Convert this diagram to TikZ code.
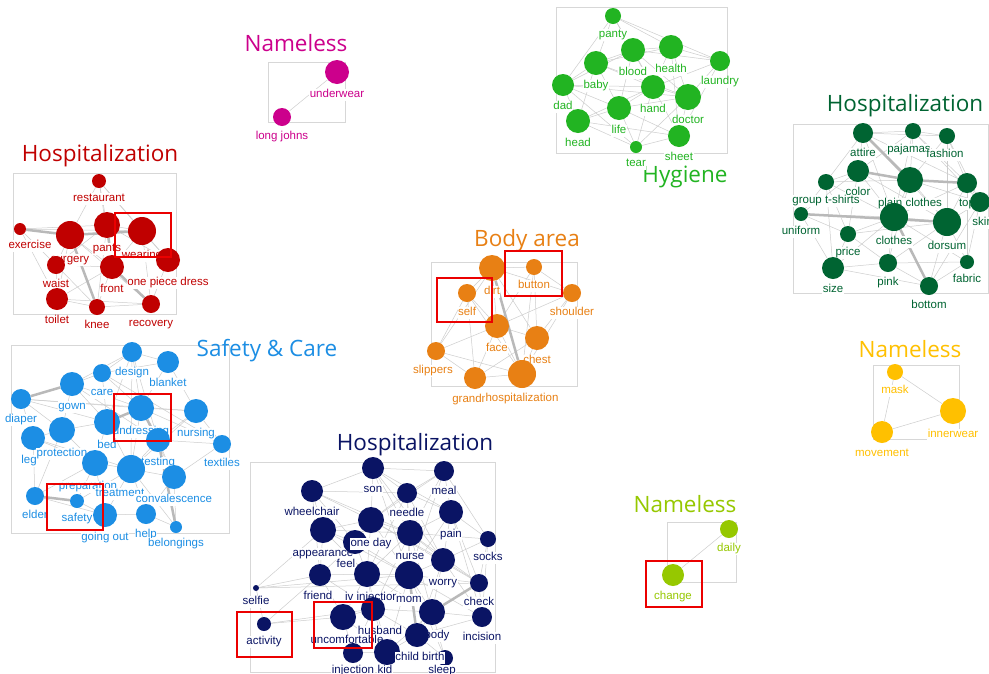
\documentclass[tikz,border=0pt]{standalone}
\usepackage{fontspec}
\setmainfont{Liberation Sans}
\newfontfamily\titlefont{Open Sans}
\usepackage{tikz}
\usetikzlibrary{backgrounds}
\definecolor{hospred}{RGB}{192, 0, 0}
\definecolor{namepink}{RGB}{204, 0, 140}
\definecolor{hygreen}{RGB}{34, 180, 34}
\definecolor{clothgreen}{RGB}{0, 100, 50}
\definecolor{bodyorange}{RGB}{232, 128, 20}
\definecolor{careblue}{RGB}{28, 142, 228}
\definecolor{hospnavy}{RGB}{10, 20, 100}
\definecolor{namegold}{RGB}{255, 192, 0}
\definecolor{namelime}{RGB}{150, 200, 0}
\definecolor{markred}{RGB}{235, 0, 0}
\definecolor{edgegray}{RGB}{205, 205, 205}
\definecolor{thickgray}{RGB}{185, 185, 185}
\definecolor{framegray}{RGB}{215, 215, 215}
\newcommand{\lblfont}{\fontsize{11.5}{13}\selectfont}

\begin{document}
\begin{tikzpicture}[x=1pt, y=-1pt,
    kw/.style={circle, fill=cl, inner sep=0pt, minimum size=#1, label distance=2.5pt},
    lbl/.style={font=\lblfont, text=cl, fill=white, inner sep=0.5pt, text height=8pt, text depth=2.3pt, yshift=-5pt},
    title/.style={font=\titlefont\fontsize{22.5}{26}\selectfont, text=cl, anchor=base, inner sep=0pt},
    frame/.style={draw=framegray, line width=0.8pt},
    link/.style={draw=edgegray, line width=0.5pt},
    strong/.style={draw=thickgray, line width=2.5pt},
    hlbox/.style={draw=markred, line width=2.6pt}]

    \begin{scope}[on background layer]
        \fill[white] (0,0) rectangle (989,673);
    \end{scope}
    \useasboundingbox (0,0) rectangle (989,673);

    % Hospitalization (red)
    \begin{scope}
        \colorlet{cl}{hospred}
        \node[title] (r-title) at (100,161) {Hospitalization};
        \node[kw=14pt, label={[lbl]below:restaurant}] (r-restaurant) at (99,181) {};
        \node[kw=12pt, label={[lbl, xshift=10pt]below:exercise}] (r-exercise) at (20,229) {};
        \node[kw=28pt, label={[lbl]below:surgery}] (r-surgery) at (70,235) {};
        \node[kw=26pt, label={[lbl]below:pants}] (r-pants) at (107,225) {};
        \node[kw=28pt, label={[lbl]below:wearing}] (r-wearing) at (142,231) {};
        \node[kw=24pt, label={[lbl]below:one piece dress}] (r-dress) at (168,260) {};
        \node[kw=18pt, label={[lbl]below:waist}] (r-waist) at (56,265) {};
        \node[kw=24pt, label={[lbl]below:front}] (r-front) at (112,267) {};
        \node[kw=22pt, label={[lbl]below:toilet}] (r-toilet) at (57,299) {};
        \node[kw=16pt, label={[lbl]below:knee}] (r-knee) at (97,307) {};
        \node[kw=18pt, label={[lbl]below:recovery}] (r-recovery) at (151,304) {};
        \begin{scope}[on background layer]
            \draw[frame] (13,173) rectangle (176,314);
            \foreach \a/\b in {restaurant/surgery, restaurant/pants, restaurant/wearing, restaurant/dress,
                restaurant/front, exercise/pants, exercise/wearing, exercise/waist, exercise/toilet,
                surgery/waist, surgery/toilet, surgery/front, surgery/recovery, pants/wearing, pants/waist,
                pants/knee, pants/dress, wearing/front, wearing/dress, wearing/recovery, waist/front,
                waist/knee, toilet/knee, toilet/front, front/knee, knee/recovery, dress/recovery,
                toilet/recovery, waist/toilet}
                \draw[link] (r-\a) -- (r-\b);
            \foreach \a/\b in {exercise/surgery, surgery/wearing, surgery/knee, pants/front, front/recovery}
                \draw[strong] (r-\a) -- (r-\b);
        \end{scope}
        \draw[hlbox] (115,213) rectangle (171,257);
    \end{scope}

    % Nameless (pink)
    \begin{scope}
        \colorlet{cl}{namepink}
        \node[title] (p-title) at (296,51) {Nameless};
        \node[kw=24pt, label={[lbl]below:underwear}] (p-underwear) at (337,72) {};
        \node[kw=18pt, label={[lbl]below:long johns}] (p-longjohns) at (282,117) {};
        \begin{scope}[on background layer]
            \draw[frame] (268,62) rectangle (345,122);
            \draw[link] (p-underwear) -- (p-longjohns);
        \end{scope}
    \end{scope}

    % Hygiene
    \begin{scope}
        \colorlet{cl}{hygreen}
        \node[title] (g-title) at (685,182) {Hygiene};
        \node[kw=16pt, label={[lbl]below:panty}] (g-panty) at (613,16) {};
        \node[kw=24pt, label={[lbl]below:blood}] (g-blood) at (633,50) {};
        \node[kw=24pt, label={[lbl]below:health}] (g-health) at (671,47) {};
        \node[kw=20pt, label={[lbl]below:laundry}] (g-laundry) at (720,61) {};
        \node[kw=24pt, label={[lbl]below:baby}] (g-baby) at (596,63) {};
        \node[kw=22pt, label={[lbl]below:dad}] (g-dad) at (563,85) {};
        \node[kw=24pt, label={[lbl]below:hand}] (g-hand) at (653,87) {};
        \node[kw=26pt, label={[lbl]below:doctor}] (g-doctor) at (688,97) {};
        \node[kw=24pt, label={[lbl]below:life}] (g-life) at (619,108) {};
        \node[kw=24pt, label={[lbl]below:head}] (g-head) at (578,121) {};
        \node[kw=22pt, label={[lbl]below:sheet}] (g-sheet) at (679,136) {};
        \node[kw=12pt, label={[lbl]below:tear}] (g-tear) at (636,147) {};
        \begin{scope}[on background layer]
            \draw[frame] (556,7) rectangle (727,153);
            \foreach \a/\b in {panty/blood, panty/health, panty/baby, panty/hand, panty/laundry, panty/dad,
                blood/health, blood/baby, blood/hand, blood/doctor, blood/life, blood/laundry, blood/dad,
                health/laundry, health/hand, health/doctor, health/baby, health/sheet, laundry/doctor,
                laundry/hand, laundry/sheet, baby/dad, baby/hand, baby/life, baby/doctor, baby/head,
                dad/hand, dad/life, dad/head, dad/tear, dad/doctor, hand/doctor, hand/life, hand/sheet,
                hand/tear, hand/head, doctor/life, doctor/sheet, doctor/tear, life/head, life/tear,
                life/sheet, head/tear, head/sheet, tear/sheet}
                \draw[link] (g-\a) -- (g-\b);
        \end{scope}
    \end{scope}

    % Hospitalization (dark green)
    \begin{scope}
        \colorlet{cl}{clothgreen}
        \node[title] (d-title) at (905,111) {Hospitalization};
        \node[kw=20pt, label={[lbl]below:attire}] (d-attire) at (863,133) {};
        \node[kw=16pt, label={[lbl, xshift=-4pt]below:pajamas}] (d-pajamas) at (913,131) {};
        \node[kw=16pt, label={[lbl, xshift=-2pt]below:fashion}] (d-fashion) at (947,136) {};
        \node[kw=22pt, label={[lbl]below:color}] (d-color) at (858,171) {};
        \node[kw=16pt, label={[lbl]below:group t-shirts}] (d-group) at (826,182) {};
        \node[kw=26pt, label={[lbl]below:plain clothes}] (d-plain) at (910,180) {};
        \node[kw=20pt, label={[lbl]below:top}] (d-top) at (967,183) {};
        \node[kw=20pt, label={[lbl, xshift=3pt]below:skirt}] (d-skirt) at (980,202) {};
        \node[kw=14pt, label={[lbl]below:uniform}] (d-uniform) at (801,214) {};
        \node[kw=28pt, label={[lbl]below:clothes}] (d-clothes) at (894,217) {};
        \node[kw=28pt, label={[lbl]below:dorsum}] (d-dorsum) at (947,222) {};
        \node[kw=16pt, label={[lbl]below:price}] (d-price) at (848,234) {};
        \node[kw=22pt, label={[lbl]below:size}] (d-size) at (833,268) {};
        \node[kw=18pt, label={[lbl]below:pink}] (d-pink) at (888,263) {};
        \node[kw=14pt, label={[lbl]below:fabric}] (d-fabric) at (967,262) {};
        \node[kw=18pt, label={[lbl]below:bottom}] (d-bottom) at (929,286) {};
        \begin{scope}[on background layer]
            \draw[frame] (793,124) rectangle (988,293);
            \foreach \a/\b in {attire/pajamas, attire/fashion, attire/color, attire/group, attire/clothes,
                attire/dorsum, attire/top, pajamas/fashion, pajamas/plain, pajamas/color, pajamas/top,
                pajamas/clothes, pajamas/skirt, fashion/top, fashion/plain, fashion/dorsum, fashion/skirt,
                color/group, color/clothes, color/price, color/uniform, color/dorsum, group/uniform,
                group/plain, group/clothes, group/price, group/size, plain/clothes, plain/dorsum,
                plain/skirt, plain/pink, top/skirt, top/dorsum, top/clothes, top/fabric, skirt/dorsum,
                skirt/fabric, skirt/bottom, uniform/clothes, uniform/price, uniform/size, clothes/dorsum,
                clothes/price, clothes/size, clothes/pink, clothes/fabric, dorsum/pink, dorsum/fabric,
                dorsum/bottom, dorsum/price, price/size, price/pink, size/pink, size/bottom, pink/bottom,
                pink/fabric, bottom/fabric}
                \draw[link] (d-\a) -- (d-\b);
            \foreach \a/\b in {attire/plain, color/plain, uniform/dorsum, plain/top, clothes/bottom}
                \draw[strong] (d-\a) -- (d-\b);
        \end{scope}
    \end{scope}

    % Body area
    \begin{scope}
        \colorlet{cl}{bodyorange}
        \node[title] (o-title) at (527,246) {Body area};
        \node[kw=26pt, label={[lbl]below:dirt}] (o-dirt) at (492,268) {};
        \node[kw=16pt, label={[lbl]below:button}] (o-button) at (534,267) {};
        \node[kw=18pt, label={[lbl]below:self}] (o-self) at (467,293) {};
        \node[kw=18pt, label={[lbl]below:shoulder}] (o-shoulder) at (572,293) {};
        \node[kw=24pt, label={[lbl]below:face}] (o-face) at (497,326) {};
        \node[kw=24pt, label={[lbl]below:chest}] (o-chest) at (537,338) {};
        \node[kw=18pt, label={[lbl, xshift=-3pt]below:slippers}] (o-slippers) at (436,351) {};
        \node[kw=22pt, label={[lbl]below:grandma}] (o-grand) at (475,378) {};
        \node[kw=28pt, label={[lbl]below:hospitalization}] (o-hosp) at (522,374) {};
        \begin{scope}[on background layer]
            \draw[frame] (431,262) rectangle (577,386);
            \foreach \a/\b in {dirt/button, dirt/self, dirt/shoulder, dirt/face, dirt/chest, dirt/slippers,
                button/shoulder, button/face, button/chest, button/hosp, self/face, self/slippers,
                self/grand, self/hosp, shoulder/chest, shoulder/hosp, shoulder/face, face/chest,
                face/slippers, face/grand, face/hosp, chest/hosp, chest/grand, slippers/grand,
                slippers/hosp, grand/hosp}
                \draw[link] (o-\a) -- (o-\b);
            \draw[strong] (o-dirt) -- (o-hosp);
        \end{scope}
        \draw[hlbox] (437,278) rectangle (492,322);
        \draw[hlbox] (505,251) rectangle (562,296);
    \end{scope}

    % Safety & Care
    \begin{scope}
        \colorlet{cl}{careblue}
        \node[title] (b-title) at (267,356) {Safety \& Care};
        \node[kw=20pt, label={[lbl]below:design}] (b-design) at (132,352) {};
        \node[kw=22pt, label={[lbl]below:blanket}] (b-blanket) at (168,362) {};
        \node[kw=18pt, label={[lbl]below:care}] (b-care) at (102,373) {};
        \node[kw=24pt, label={[lbl]below:gown}] (b-gown) at (72,384) {};
        \node[kw=20pt, label={[lbl]below:diaper}] (b-diaper) at (21,399) {};
        \node[kw=26pt, label={[lbl]below:undressing}] (b-undressing) at (141,408) {};
        \node[kw=24pt, label={[lbl]below:nursing}] (b-nursing) at (196,411) {};
        \node[kw=26pt, label={[lbl]below:bed}] (b-bed) at (107,422) {};
        \node[kw=24pt, label={[lbl, xshift=-4pt]below:leg}] (b-leg) at (33,438) {};
        \node[kw=26pt, label={[lbl]below:protection}] (b-protection) at (62,430) {};
        \node[kw=24pt, label={[lbl]below:testing}] (b-testing) at (158,440) {};
        \node[kw=18pt, label={[lbl]below:textiles}] (b-textiles) at (222,444) {};
        \node[kw=26pt, label={[lbl, xshift=-7pt]below:preparation}] (b-prep) at (95,463) {};
        \node[kw=28pt, label={[lbl, xshift=-11pt]below:treatment}] (b-treatment) at (131,469) {};
        \node[kw=24pt, label={[lbl]below:convalescence}] (b-conv) at (174,477) {};
        \node[kw=18pt, label={[lbl]below:elder}] (b-elder) at (35,496) {};
        \node[kw=14pt, label={[lbl]below:safety}] (b-safety) at (77,501) {};
        \node[kw=24pt, label={[lbl]below:going out}] (b-goingout) at (105,515) {};
        \node[kw=20pt, label={[lbl]below:help}] (b-help) at (146,514) {};
        \node[kw=12pt, label={[lbl]below:belongings}] (b-belongings) at (176,527) {};
        \begin{scope}[on background layer]
            \draw[frame] (11,345) rectangle (229,533);
            \foreach \a/\b in {design/blanket, design/care, design/gown, design/undressing, design/bed,
                design/testing, design/treatment, blanket/undressing, blanket/nursing, blanket/care,
                care/gown, care/bed, care/undressing, gown/bed, gown/protection, gown/undressing,
                diaper/protection, diaper/leg, diaper/bed, diaper/undressing, undressing/nursing,
                undressing/treatment, undressing/conv, undressing/textiles, nursing/textiles,
                nursing/testing, nursing/treatment, bed/protection, bed/prep, bed/treatment, bed/testing,
                protection/leg, protection/prep, protection/elder, leg/elder, leg/prep, testing/treatment,
                testing/conv, testing/textiles, prep/treatment, prep/safety, prep/goingout, prep/elder,
                treatment/conv, treatment/goingout, treatment/help, treatment/safety, conv/help,
                conv/belongings, conv/textiles, elder/goingout, safety/goingout, goingout/help,
                help/belongings, treatment/belongings, gown/testing, leg/treatment, diaper/nursing,
                care/textiles}
                \draw[link] (b-\a) -- (b-\b);
            \foreach \a/\b in {undressing/testing, testing/belongings, diaper/gown, elder/safety, bed/undressing}
                \draw[strong] (b-\a) -- (b-\b);
        \end{scope}
        \draw[hlbox] (114,394) rectangle (171,441);
        \draw[hlbox] (47,484) rectangle (103,530);
    \end{scope}

    % Hospitalization (navy)
    \begin{scope}
        \colorlet{cl}{hospnavy}
        \node[title] (n-title) at (415,450) {Hospitalization};
        \node[kw=22pt, label={[lbl]below:son}] (n-son) at (373,468) {};
        \node[kw=20pt, label={[lbl]below:meal}] (n-meal) at (444,471) {};
        \node[kw=22pt, label={[lbl]below:wheelchair}] (n-wheelchair) at (312,491) {};
        \node[kw=20pt, label={[lbl]below:needle}] (n-needle) at (407,493) {};
        \node[kw=24pt, label={[lbl]below:pain}] (n-pain) at (451,512) {};
        \node[kw=26pt, label={[lbl]below:appearance}] (n-appearance) at (323,530) {};
        \node[kw=24pt, label={[lbl, xshift=-9pt]below:feel}] (n-feel) at (355,542) {};
        \node[kw=26pt, label={[lbl]below:one day}] (n-oneday) at (371,520) {};
        \node[kw=26pt, label={[lbl]below:nurse}] (n-nurse) at (410,533) {};
        \node[kw=16pt, label={[lbl]below:socks}] (n-socks) at (488,539) {};
        \node[kw=24pt, label={[lbl]below:worry}] (n-worry) at (443,560) {};
        \node[kw=22pt, label={[lbl, xshift=-2pt]below:friend}] (n-friend) at (320,575) {};
        \node[kw=26pt, label={[lbl, xshift=5pt]below:iv injection}] (n-ivinj) at (367,574) {};
        \node[kw=28pt, label={[lbl]below:mom}] (n-mom) at (409,575) {};
        \node[kw=18pt, label={[lbl]below:check}] (n-check) at (479,583) {};
        \node[kw=6pt, label={[lbl]below:selfie}] (n-selfie) at (256,588) {};
        \node[kw=24pt, label={[lbl, xshift=7pt]below:husband}] (n-husband) at (373,609) {};
        \node[kw=26pt, label={[lbl, xshift=4pt]below:uncomfortable}] (n-uncomf) at (343,617) {};
        \node[kw=26pt, label={[lbl, xshift=5pt]below:body}] (n-body) at (432,612) {};
        \node[kw=20pt, label={[lbl]below:incision}] (n-incision) at (482,617) {};
        \node[kw=14pt, label={[lbl]below:activity}] (n-activity) at (264,624) {};
        \node[kw=20pt, label={[lbl, yshift=3pt]below:injection}] (n-injection) at (353,653) {};
        \node[kw=26pt, label={[lbl, xshift=-2pt, yshift=5pt]below:kid}] (n-kid) at (387,652) {};
        \node[kw=16pt, label={[lbl, xshift=-3pt, yshift=6pt]below:sleep}] (n-sleep) at (445,658) {};
        \node[kw=24pt, label={[lbl, xshift=3pt]below:child birth}] (n-birth) at (417,635) {};
        \begin{scope}[on background layer]
            \draw[frame] (250,462) rectangle (495,672);
            \foreach \a/\b in {son/meal, son/needle, son/oneday, son/wheelchair, son/nurse, son/mom,
                son/pain, son/worry, meal/needle, meal/pain, meal/nurse, meal/socks, meal/oneday,
                meal/mom, wheelchair/appearance, wheelchair/oneday, wheelchair/needle, wheelchair/nurse,
                wheelchair/feel, wheelchair/friend, needle/oneday, needle/nurse, needle/pain, needle/mom,
                needle/ivinj, needle/worry, oneday/appearance, oneday/nurse, oneday/feel, oneday/ivinj,
                oneday/mom, oneday/worry, oneday/check, pain/nurse, pain/worry, pain/socks, pain/check,
                pain/mom, pain/incision, appearance/feel, appearance/friend, appearance/ivinj,
                appearance/nurse, appearance/selfie, appearance/mom, nurse/mom, nurse/worry, nurse/ivinj,
                nurse/socks, nurse/body, nurse/check, nurse/husband, feel/ivinj, feel/friend, feel/mom,
                socks/worry, socks/check, socks/incision, worry/mom, worry/check, worry/body,
                worry/incision, worry/birth, friend/ivinj, friend/selfie, friend/uncomf, friend/husband,
                friend/activity, ivinj/mom, ivinj/husband, ivinj/uncomf, ivinj/body, ivinj/kid, mom/body,
                mom/husband, mom/check, mom/kid, mom/incision, mom/sleep, check/incision,
                selfie/activity, selfie/mom, selfie/check, husband/uncomf, husband/body, husband/kid,
                husband/birth, husband/injection, uncomf/injection, uncomf/kid, uncomf/activity,
                body/incision, body/birth, body/sleep, body/kid, birth/kid, birth/sleep, kid/injection,
                incision/birth, activity/husband}
                \draw[link] (n-\a) -- (n-\b);
            \foreach \a/\b in {mom/birth, body/check}
                \draw[strong] (n-\a) -- (n-\b);
        \end{scope}
        \draw[hlbox] (237,612) rectangle (292,657);
        \draw[hlbox] (314,602) rectangle (372,648);
    \end{scope}

    % Nameless (gold)
    \begin{scope}
        \colorlet{cl}{namegold}
        \node[title] (y-title) at (910,357) {Nameless};
        \node[kw=16pt, label={[lbl]below:mask}] (y-mask) at (895,372) {};
        \node[kw=26pt, label={[lbl]below:innerwear}] (y-innerwear) at (953,411) {};
        \node[kw=22pt, label={[lbl]below:movement}] (y-movement) at (882,432) {};
        \begin{scope}[on background layer]
            \draw[frame] (873,365) rectangle (959,439);
            \foreach \a/\b in {mask/innerwear, mask/movement, movement/innerwear}
                \draw[link] (y-\a) -- (y-\b);
        \end{scope}
    \end{scope}

    % Nameless (lime)
    \begin{scope}
        \colorlet{cl}{namelime}
        \node[title] (l-title) at (685,512) {Nameless};
        \node[kw=18pt, label={[lbl]below:daily}] (l-daily) at (729,529) {};
        \node[kw=22pt, label={[lbl]below:change}] (l-change) at (673,575) {};
        \begin{scope}[on background layer]
            \draw[frame] (667,522) rectangle (736,582);
            \draw[link] (l-daily) -- (l-change);
        \end{scope}
        \draw[hlbox] (646,561) rectangle (702,607);
    \end{scope}

\end{tikzpicture}
\end{document}
